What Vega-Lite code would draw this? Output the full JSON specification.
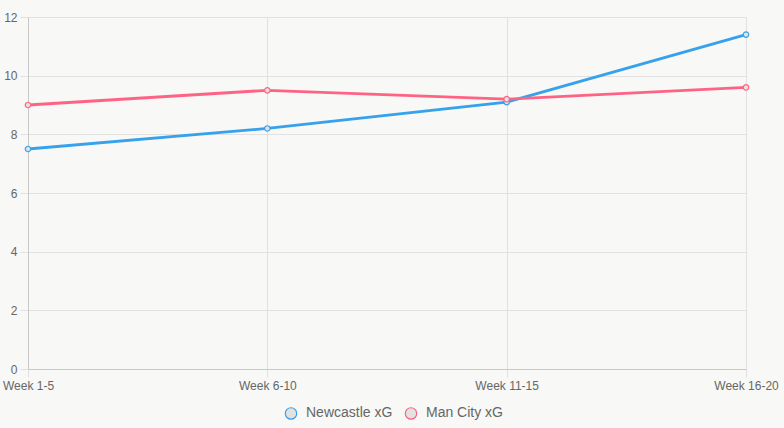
{
  "$schema": "https://vega.github.io/schema/vega-lite/v6.json",
  "width": 718,
  "height": 352,
  "autosize": {"type": "none"},
  "padding": {"left": 28, "top": 17, "right": 38, "bottom": 59},
  "background": "#f8f8f6",
  "config": {
    "view": {"stroke": null},
    "font": "Liberation Sans",
    "axis": {"labelFont": "Liberation Sans", "labelFontSize": 12, "labelColor": "#666666", "gridColor": "#e1e1e1", "tickColor": "#e1e1e1", "domainColor": "#c8c8c8", "tickSize": 8, "labelPadding": 3, "labelOverlap": false}
  },
  "data": {
    "values": [
      {"week": "Week 1-5", "series": "Newcastle xG", "xg": 7.5},
      {"week": "Week 6-10", "series": "Newcastle xG", "xg": 8.2},
      {"week": "Week 11-15", "series": "Newcastle xG", "xg": 9.1},
      {"week": "Week 16-20", "series": "Newcastle xG", "xg": 11.4},
      {"week": "Week 1-5", "series": "Man City xG", "xg": 9.0},
      {"week": "Week 6-10", "series": "Man City xG", "xg": 9.5},
      {"week": "Week 11-15", "series": "Man City xG", "xg": 9.2},
      {"week": "Week 16-20", "series": "Man City xG", "xg": 9.6}
    ]
  },
  "encoding": {
    "x": {
      "field": "week", "type": "ordinal", "sort": null,
      "scale": {"type": "point", "padding": 0},
      "axis": {"title": null, "labelAngle": 0, "grid": true, "domainColor": "#c8c8c8"}
    },
    "y": {
      "field": "xg", "type": "quantitative",
      "scale": {"domain": [0, 12], "nice": false},
      "axis": {"title": null, "values": [0, 2, 4, 6, 8, 10, 12], "grid": true, "labelOverlap": false}
    },
    "color": {
      "field": "series", "type": "nominal",
      "scale": {"domain": ["Newcastle xG", "Man City xG"], "range": ["#36a2eb", "#ff6384"]},
      "legend": {
        "title": null, "orient": "none", "legendX": 256, "legendY": 389,
        "direction": "horizontal", "symbolType": "circle", "symbolSize": 130,
        "symbolFillColor": "#dfdfdd", "symbolStrokeWidth": 1.2,
        "labelFontSize": 14, "labelColor": "#666666", "labelFont": "Liberation Sans",
        "labelOffset": 8, "columnPadding": 9
      }
    }
  },
  "layer": [
    {"mark": {"type": "line", "strokeWidth": 2.8}},
    {"mark": {"type": "point", "filled": false, "fill": "#e2e2e0", "fillOpacity": 1, "size": 30, "strokeWidth": 1.2, "opacity": 1}}
  ]
}
